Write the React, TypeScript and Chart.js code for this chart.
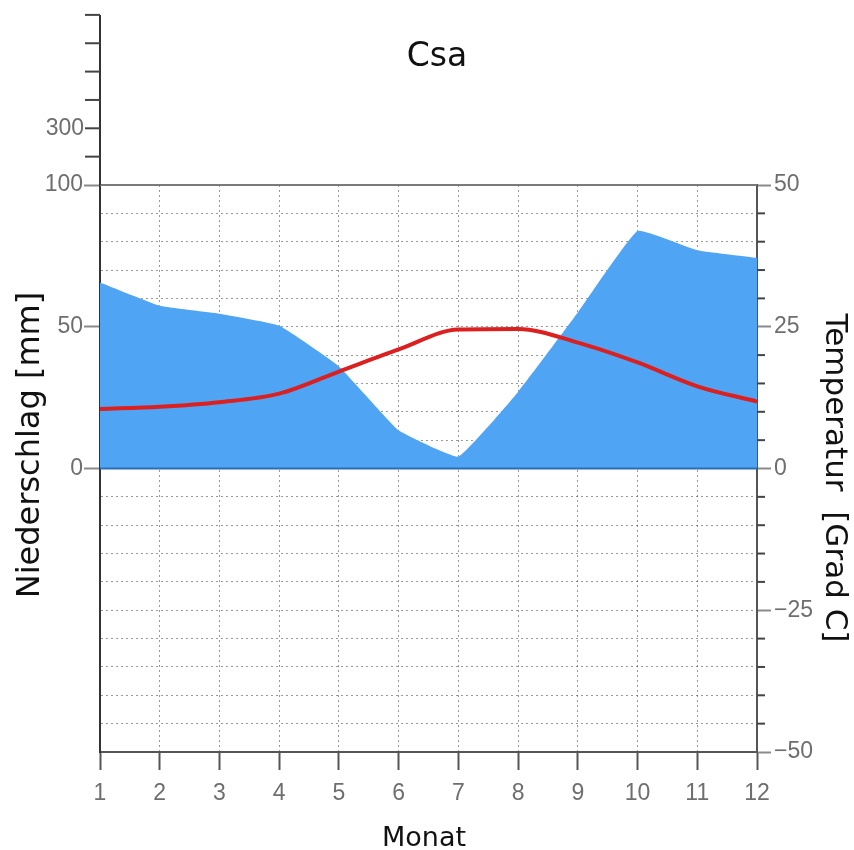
import React, { useEffect, useRef } from 'react';
import { Chart, registerables } from 'chart.js';

Chart.register(...registerables);

// ---- data ----
const months = ['1', '2', '3', '4', '5', '6', '7', '8', '9', '10', '11', '12'];
const precipitation = [65.6, 57.4, 54.6, 50.4, 36, 13.5, 4.2, 27, 55, 83.8, 77, 74.3];
const temperature = [10.5, 10.9, 11.7, 13.2, 17.1, 21, 24.5, 24.6, 22.2, 18.7, 14.5, 11.8];
const precipLabelTicks = [0, 50, 100];
const tempLabelTicks = [-50, -25, 0, 25, 50];
const upperPrecipTicks = [200, 300, 400, 500, 600, 700];
const upperPrecipLabels = [300];

const chartTitle = 'Csa';
const precipTitle = 'Niederschlag [mm]';
const tempTitle = 'Temperatur  [Grad C]';
const monthTitle = 'Monat';

const TICK_FONT = '"Liberation Sans", Arial, sans-serif';
const TITLE_FONT = '"DejaVu Sans", sans-serif';
const GRID_COLOR = 'rgba(70,70,70,0.55)';
const TICK_LABEL_COLOR = '#6e6e6e';
const TICK_SIZE = 23;

const fmtMinus = (v: number) => (v < 0 ? '\u2212' + Math.abs(v) : String(v));

const climatePlugin = {
  id: 'climateExtras',
  afterDraw(chart: any) {
    const { ctx, chartArea: a, scales } = chart;
    const yP = scales.yP;
    const yT = scales.yT;
    ctx.save();
    ctx.setLineDash([]);

    // top border of the plot
    ctx.strokeStyle = '#7a7a7a';
    ctx.lineWidth = 2;
    ctx.beginPath();
    ctx.moveTo(a.left, a.top);
    ctx.lineTo(a.right, a.top);
    ctx.stroke();

    // zero line
    const y0 = yP.getPixelForValue(0);
    ctx.strokeStyle = '#2c6cb3';
    ctx.lineWidth = 2;
    ctx.beginPath();
    ctx.moveTo(a.left, y0);
    ctx.lineTo(a.right, y0);
    ctx.stroke();

    // compressed precipitation scale above 100 mm (1/10)
    const p100 = yP.getPixelForValue(100);
    const step10 = yP.getPixelForValue(0) - yP.getPixelForValue(10);
    const upY = (v: number) => p100 - ((v - 100) / 100) * step10;
    const topV = upperPrecipTicks[upperPrecipTicks.length - 1];
    ctx.strokeStyle = '#333';
    ctx.lineWidth = 2;
    ctx.beginPath();
    ctx.moveTo(a.left, p100);
    ctx.lineTo(a.left, upY(topV));
    ctx.stroke();
    ctx.strokeStyle = '#444';
    upperPrecipTicks.forEach((v) => {
      const y = upY(v);
      ctx.beginPath();
      ctx.moveTo(a.left - 15, y);
      ctx.lineTo(a.left, y);
      ctx.stroke();
    });
    ctx.fillStyle = TICK_LABEL_COLOR;
    ctx.font = `${TICK_SIZE}px ${TICK_FONT}`;
    ctx.textAlign = 'right';
    ctx.textBaseline = 'middle';
    upperPrecipLabels.forEach((v) => {
      ctx.fillText(String(v), a.left - 16, upY(v));
    });

    // minor temperature ticks on the right axis
    ctx.strokeStyle = '#444';
    ctx.lineWidth = 2;
    for (let v = yT.min; v <= yT.max; v += 5) {
      if (tempLabelTicks.includes(v)) continue;
      const y = yT.getPixelForValue(v);
      ctx.beginPath();
      ctx.moveTo(a.right, y);
      ctx.lineTo(a.right + 8, y);
      ctx.stroke();
    }

    // titles
    ctx.fillStyle = '#111';
    ctx.textAlign = 'center';
    ctx.textBaseline = 'middle';
    ctx.font = `33px ${TITLE_FONT}`;
    ctx.fillText(chartTitle, 437, 57);

    ctx.font = `27px ${TITLE_FONT}`;
    ctx.fillText(monthTitle, 424, 839);

    ctx.font = `32px ${TITLE_FONT}`;
    ctx.save();
    ctx.translate(31, 445);
    ctx.rotate(-Math.PI / 2);
    ctx.fillText(precipTitle, 0, 0);
    ctx.restore();

    ctx.font = `31px ${TITLE_FONT}`;
    ctx.save();
    ctx.translate(834, 478);
    ctx.rotate(Math.PI / 2);
    ctx.fillText(tempTitle, 0, 0);
    ctx.restore();

    ctx.restore();
  },
};

export default function App() {
  const ref = useRef<HTMLCanvasElement>(null);

  useEffect(() => {
    document.body.style.margin = '0';
    const canvas = ref.current!;
    const chart = new Chart(canvas, {
      type: 'line',
      data: {
        labels: months,
        datasets: [
          {
            label: 'Temperatur',
            data: temperature,
            yAxisID: 'yT',
            borderColor: '#dc1f1f',
            borderWidth: 4,
            pointRadius: 0,
            fill: false,
            cubicInterpolationMode: 'monotone',
            order: 0,
          },
          {
            label: 'Niederschlag',
            data: precipitation,
            yAxisID: 'yP',
            borderWidth: 0,
            borderColor: 'rgba(0,0,0,0)',
            backgroundColor: '#50a4f4',
            pointRadius: 0,
            fill: 'origin',
            tension: 0.1,
            order: 1,
          },
        ],
      },
      options: {
        responsive: false,
        animation: false,
        devicePixelRatio: 1,
        layout: { padding: { top: 185, left: 0, right: 0, bottom: 0 } },
        plugins: {
          legend: { display: false },
          tooltip: { enabled: false },
          title: { display: false },
        },
        scales: {
          x: {
            type: 'category',
            offset: false,
            z: 1,
            afterFit: (s: any) => {
              s.height = 98;
            },
            grid: {
              display: true,
              drawOnChartArea: true,
              color: (c: any) =>
                c.index === 0 || c.index === months.length - 1 ? 'rgba(0,0,0,0)' : GRID_COLOR,
              lineWidth: 1,
              drawTicks: true,
              tickLength: 18,
              tickColor: '#555',
              tickWidth: 2,
              tickBorderDash: [],
            },
            border: { display: true, color: '#555', width: 2, dash: [2, 3] },
            ticks: {
              color: TICK_LABEL_COLOR,
              font: { family: TICK_FONT, size: TICK_SIZE },
              padding: 10,
              maxRotation: 0,
              autoSkip: false,
            },
            title: { display: false },
          },
          yP: {
            type: 'linear',
            position: 'left',
            min: -100,
            max: 100,
            z: 1,
            afterFit: (s: any) => {
              s.width = 100;
            },
            grid: {
              display: true,
              drawOnChartArea: true,
              color: (c: any) => {
                const v = c.tick ? c.tick.value : 0;
                return v === 0 || Math.abs(v) === 100 ? 'rgba(0,0,0,0)' : GRID_COLOR;
              },
              lineWidth: 1,
              drawTicks: true,
              tickLength: 16,
              tickWidth: 2,
              tickColor: (c: any) =>
                c.tick && precipLabelTicks.includes(c.tick.value) ? '#8a8a8a' : 'rgba(0,0,0,0)',
              tickBorderDash: [],
            },
            border: { display: true, color: '#333', width: 2, dash: [2, 3] },
            ticks: {
              stepSize: 10,
              maxTicksLimit: 100,
              autoSkip: false,
              color: TICK_LABEL_COLOR,
              font: { family: TICK_FONT, size: TICK_SIZE },
              padding: 1,
              callback: (v: any) => (precipLabelTicks.includes(Number(v)) ? String(v) : ''),
            },
            title: { display: false },
          },
          yT: {
            type: 'linear',
            position: 'right',
            min: -50,
            max: 50,
            afterFit: (s: any) => {
              s.width = 97;
            },
            grid: {
              display: true,
              drawOnChartArea: false,
              drawTicks: true,
              tickLength: 14,
              tickWidth: 2,
              tickColor: (c: any) =>
                c.tick && tempLabelTicks.includes(c.tick.value) ? '#8a8a8a' : 'rgba(0,0,0,0)',
            },
            border: { display: true, color: '#555', width: 2 },
            ticks: {
              stepSize: 5,
              maxTicksLimit: 100,
              autoSkip: false,
              color: TICK_LABEL_COLOR,
              font: { family: TICK_FONT, size: TICK_SIZE },
              padding: 3,
              callback: (v: any) => (tempLabelTicks.includes(Number(v)) ? fmtMinus(Number(v)) : ''),
            },
            title: { display: false },
          },
        },
      } as any,
      plugins: [climatePlugin],
    });
    return () => chart.destroy();
  }, []);

  return (
    <div style={{ width: 854, height: 850, position: 'relative', background: '#fff' }}>
      <canvas ref={ref} width={854} height={850} style={{ display: 'block' }} />
    </div>
  );
}
